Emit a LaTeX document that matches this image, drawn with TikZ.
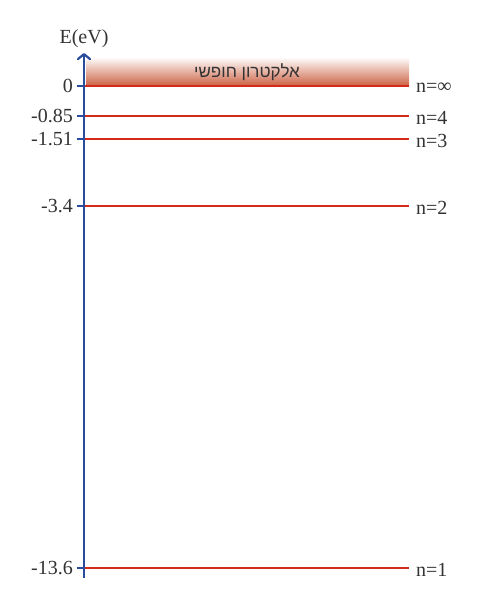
\documentclass[tikz,border=0pt]{standalone}
\usepackage{fontspec}
\setmainfont{Liberation Serif}
\newfontfamily\hebfont[Script=Hebrew]{Liberation Sans}
\newfontfamily\symfont{DejaVu Serif}
\TeXXeTstate=1
\usetikzlibrary{arrows.meta}
\definecolor{axisblue}{HTML}{2A4C9C}
\definecolor{levelred}{HTML}{D42A1A}
\definecolor{labelgray}{HTML}{333333}
\definecolor{bandbrown}{HTML}{CC6244}
\begin{document}
\begin{tikzpicture}[x=1pt,y=-1pt,
  level/.style={draw=levelred,line width=2pt},
  tick/.style={draw=axisblue,line width=1.8pt},
  elabel/.style={anchor=east,text=labelgray,font=\fontsize{20}{20}\selectfont,inner sep=0pt},
  nlabel/.style={anchor=west,text=labelgray,font=\fontsize{20}{20}\selectfont,inner sep=0pt}]
\useasboundingbox (0,0) rectangle (482,609);
% band
\shade[top color=white,bottom color=bandbrown] (86,57) rectangle (409,86);
\node[text=labelgray,font=\hebfont\fontsize{17}{17}\selectfont,inner sep=0pt] (band) at (247,72) {\beginR אלקטרון חופשי\endR};
% axis
\coordinate (axbot) at (84,578);
\coordinate (axtop) at (84,53);
% levels
\foreach \name/\y/\e/\n in {inf/86/0/∞, four/116/-0.85/4, three/139/-1.51/3, two/206/-3.4/2, one/568/-13.6/1}{
  \coordinate (L\name) at (84,\y);
  \coordinate (R\name) at (409,\y);
  \coordinate (T\name) at (77,\y);
  \draw[level] (L\name) -- (R\name);
  \draw[tick] (T\name) -- (L\name);
  \node[elabel] (e\name) at (73,\y) {\e};
  \node[nlabel] (n\name) at (416,\y+2) {n=\n};
}
\draw[draw=axisblue,line width=2pt,-{Straight Barb[length=5pt,width=12pt,line width=2.2pt,round]}] (axbot) -- (axtop);
\node[text=labelgray,font=\fontsize{20}{20}\selectfont,inner sep=0pt] (title) at (84,39) {E(eV)};
\end{tikzpicture}
\end{document}
